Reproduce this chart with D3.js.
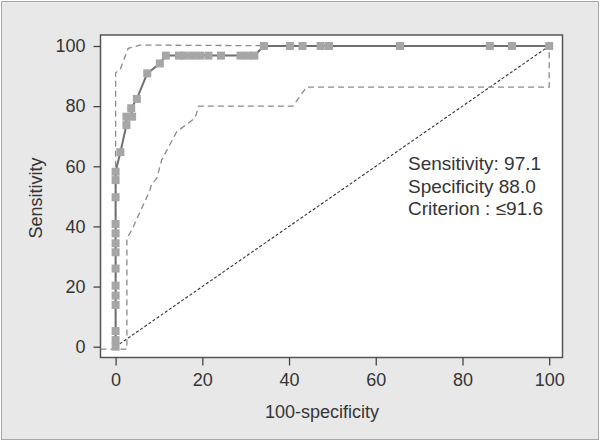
<!DOCTYPE html>
<html>
<head>
<meta charset="utf-8">
<script src="https://cdn.jsdelivr.net/npm/d3@7"></script>
<style>
body { margin: 0; background: #fff; }
svg text { font-family: "Liberation Sans", Arial, sans-serif; fill: #353535; }
.axis path { display: none; }
.axis line { stroke: #444; stroke-width: 1.3; }
.axis text { font-size: 18px; }
</style>
</head>
<body>
<div id="chart"></div>
<script>
// ROC curve points (100-specificity, sensitivity)
var rocX = [0, 0, 0, 0, 0, 0, 0, 0, 0, 0, 0, 0, 0, 0, 1.1, 2.5, 2.5, 3.8, 3.6, 4.9, 7.3, 10.2, 11.6,
	14.6, 15.9, 17.7, 19.5, 21.4, 24.3, 28.8, 30.5, 32, 34.2, 40.2, 43.1, 47.3, 49.2, 65.6, 86.3, 91.4, 100];
var rocY = [0, 2.2, 5.2, 13.9, 17, 20.3, 26, 31.4, 34.4, 37.7, 40.8, 49.7, 55.4, 58.2, 64.7, 73.7, 76.5, 76.5, 79.3, 82.4, 90.9, 94.2, 96.8,
	96.8, 96.8, 96.8, 96.8, 96.8, 96.8, 96.8, 96.8, 96.8, 100, 100, 100, 100, 100, 100, 100, 100, 100];

// confidence bounds
var upperX = [0, 0, 1, 2.9, 5.6, 34, 100];
var upperY = [0, 91.1, 92, 99.2, 100.3, 100.1, 100];
var lowerX = [-3.5, 2.6, 2.6, 3.8, 7.9, 8.3, 9.5, 10.6, 14.1, 18.3, 19.2, 40.9, 44, 100, 100];
var lowerY = [-0.8, -0.8, 36, 39, 52, 54, 56, 62, 71.5, 76, 80, 80, 86.3, 86.3, 100];

var xTicks = [0, 20, 40, 60, 80, 100];
var yTicks = [0, 20, 40, 60, 80, 100];
var notes = ["Sensitivity: 97.1", "Specificity 88.0", "Criterion : \u226491.6"];

var W = 600, H = 441;
var box = {left: 100.5, top: 35, right: 562.5, bottom: 357.5};

var svg = d3.select("#chart").append("svg").attr("width", W).attr("height", H);

svg.append("rect").attr("x", 1.5).attr("y", 1.5).attr("width", W - 3).attr("height", H - 3)
	.attr("fill", "#e8e8e8").attr("stroke", "#a8a8a8").attr("stroke-width", 1);

var x = d3.scaleLinear().domain([0, 100]).range([115.6, 549.2]);
var y = d3.scaleLinear().domain([0, 100]).range([346.7, 46]);

svg.append("rect").attr("x", box.left).attr("y", box.top)
	.attr("width", box.right - box.left).attr("height", box.bottom - box.top)
	.attr("fill", "#fff").attr("stroke", "#555").attr("stroke-width", 1.5);

function pts(xs, ys){
	return xs.map(function(v, i){ return [v, ys[i]]; });
}
var line = d3.line().x(function(d){ return x(d[0]); }).y(function(d){ return y(d[1]); });

// reference diagonal
svg.append("path").datum([[0, 0], [100, 100]]).attr("d", line)
	.attr("fill", "none").attr("stroke", "#333").attr("stroke-width", 1.1).attr("stroke-dasharray", "3,2");

// confidence bounds
[pts(upperX, upperY), pts(lowerX, lowerY)].forEach(function(p){
	svg.append("path").datum(p).attr("d", line)
		.attr("fill", "none").attr("stroke", "#8a8a8a").attr("stroke-width", 1.3).attr("stroke-dasharray", "6,4");
});

// ROC curve
var roc = pts(rocX, rocY);
svg.append("path").datum(roc).attr("d", line)
	.attr("fill", "none").attr("stroke", "#6f6f6f").attr("stroke-width", 2);
var sq = 8;
svg.selectAll(".pt").data(roc).enter().append("rect").attr("class", "pt")
	.attr("x", function(d){ return x(d[0]) - sq / 2; })
	.attr("y", function(d){ return y(d[1]) - sq / 2; })
	.attr("width", sq).attr("height", sq)
	.attr("fill", "#a6a6a6");

// axes
svg.append("g").attr("class", "axis").attr("transform", "translate(0," + box.bottom + ")")
	.call(d3.axisBottom(x).tickValues(xTicks).tickSize(8).tickPadding(8));
svg.append("g").attr("class", "axis").attr("transform", "translate(" + box.left + ",0)")
	.call(d3.axisLeft(y).tickValues(yTicks).tickSize(7).tickPadding(8));

svg.append("text").attr("x", 322).attr("y", 418).attr("text-anchor", "middle")
	.style("font-size", "18px").text("100-specificity");
svg.append("text").attr("transform", "translate(42,198) rotate(-90)").attr("text-anchor", "middle")
	.style("font-size", "18px").text("Sensitivity");

svg.selectAll(".note").data(notes).enter().append("text").attr("class", "note")
	.attr("x", 408).attr("y", function(d, i){ return 170 + i * 22.5; })
	.style("font-size", "19px").text(function(d){ return d; });
</script>
</body>
</html>
